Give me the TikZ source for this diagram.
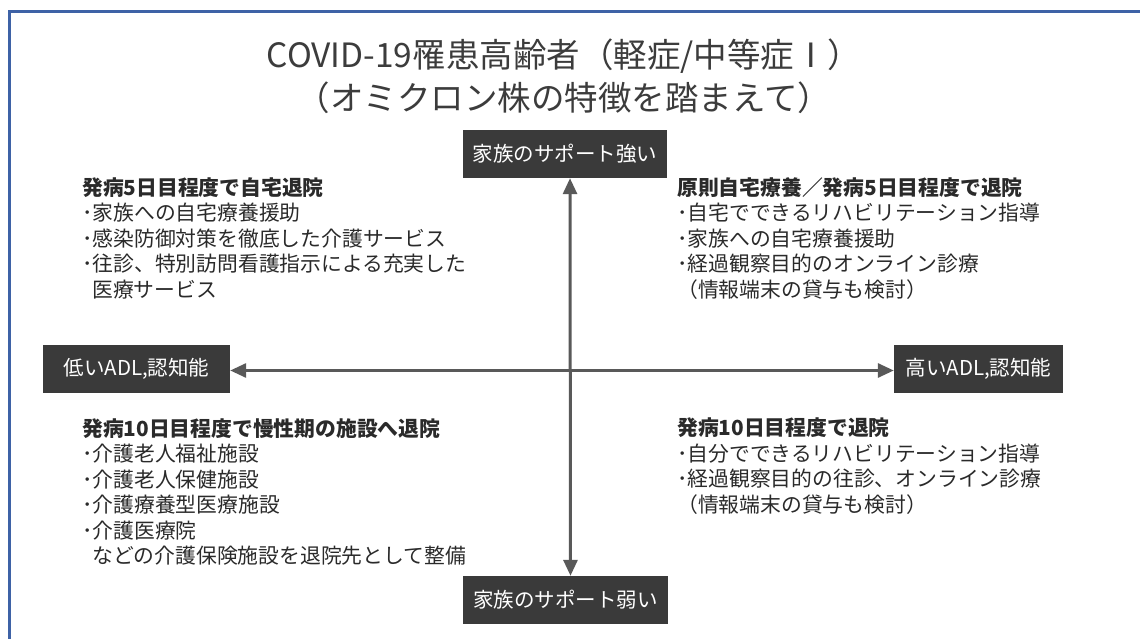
\documentclass[tikz,border=0pt]{standalone}
\usepackage{fontspec}
\setmainfont{Noto Sans CJK JP}
\usetikzlibrary{arrows.meta}
\definecolor{framec}{HTML}{3E62A6}
\definecolor{boxc}{HTML}{3A3A3A}
\definecolor{arrc}{HTML}{595959}
\definecolor{txtc}{HTML}{2A2A2A}
\definecolor{titc}{HTML}{3C3C3C}
\tikzset{
  axisbox/.style={fill=boxc, text=white, inner sep=0pt, minimum height=48pt,
    font=\fontsize{20.5}{22}\selectfont},
  axisarrow/.style={draw=arrc, line width=3pt,
    {Triangle[length=16pt,width=14pt]}-{Triangle[length=16pt,width=14pt]}},
  block/.style={anchor=north west, inner sep=0pt, align=left, text=txtc,
    font=\fontsize{20.8}{25.5}\selectfont},
  titletext/.style={text=titc, inner sep=0pt, font=\fontsize{33.5}{43}\selectfont, align=center}
}
\begin{document}
\begin{tikzpicture}[x=1pt,y=-1pt]
\useasboundingbox (0,0) rectangle (1140,639);
\draw[framec, line width=3pt] (1145,12) -- (9,12) -- (9,645);
\node[titletext] (title) at (564,76) {COVID-19罹患高齢者（軽症/中等症Ⅰ）\\（オミクロン株の特徴を踏まえて）};
\node[axisbox, minimum width=204pt] (top) at (565,154) {家族のサポート強い};
\node[axisbox, minimum width=205pt] (bot) at (565.5,600) {家族のサポート弱い};
\node[axisbox, minimum width=187pt] (left) at (136.5,369) {低いADL,認知能};
\node[axisbox, minimum width=169pt] (right) at (978.5,369) {高いADL,認知能};
\draw[axisarrow] ([xshift=5pt]top.south) -- ([xshift=5pt]bot.north);
\draw[axisarrow] ([yshift=-1.5pt]left.east) -- ([yshift=-1.5pt]right.west);
\node[block] (tl) at (82,177) {\textbf{発病5日目程度で自宅退院}\\
･家族への自宅療養援助\\
･感染防御対策を徹底した介護サービス\\
･往診、特別訪問看護指示による充実した\\
\hspace*{10pt}医療サービス};
\node[block] (tr) at (677,177) {\textbf{原則自宅療養／発病5日目程度で退院}\\
･自宅でできるリハビリテーション指導\\
･家族への自宅療養援助\\
･経過観察目的のオンライン診療\\
（情報端末の貸与も検討）};
\node[block] (bl) at (82,418) {\textbf{発病10日目程度で慢性期の施設へ退院}\\
･介護老人福祉施設\\
･介護老人保健施設\\
･介護療養型医療施設\\
･介護医療院\\
\hspace*{10pt}などの介護保険施設を退院先として整備};
\node[block] (br) at (677,418) {\textbf{発病10日目程度で退院}\\
･自分でできるリハビリテーション指導\\
･経過観察目的の往診、オンライン診療\\
（情報端末の貸与も検討）};
\end{tikzpicture}
\end{document}
